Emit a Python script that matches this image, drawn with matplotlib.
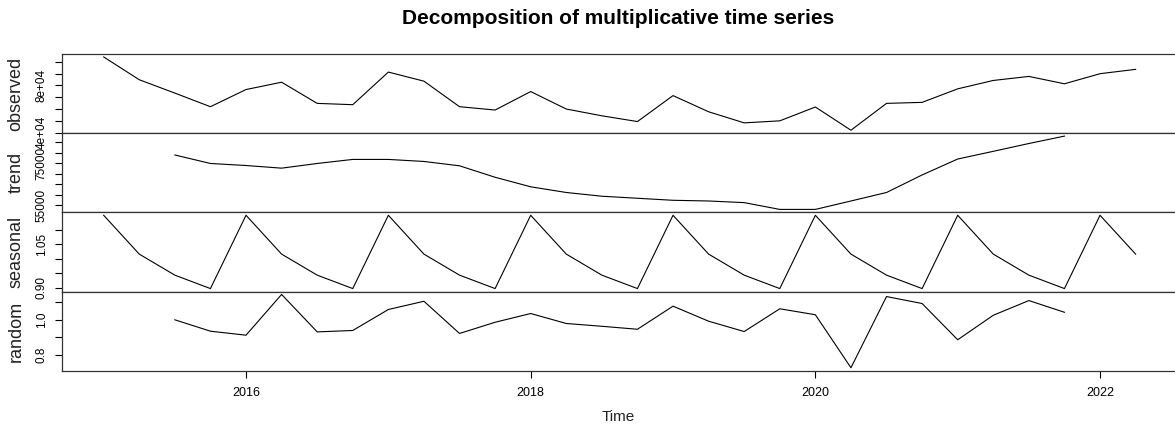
import numpy as np
import matplotlib
matplotlib.use("Agg")
import matplotlib.pyplot as plt
from matplotlib.ticker import FixedLocator, FixedFormatter

plt.rcParams['font.family'] = ['Liberation Sans', 'DejaVu Sans']

# Quarterly series, 2015 Q1 .. 2022 Q2
start_year = 2015
quarters_per_year = 4
n_obs = 30

observed = [104100, 84790, 73500, 61970, 76500, 82700, 64790, 63680, 91280, 83590,
            61970, 59150, 74790, 60000, 54270, 49400, 71370, 57690, 48290, 50000,
            61710, 42050, 64790, 65640, 77090, 84190, 87610, 81370, 89910, 93590]

trend = [np.nan, np.nan, 79000, 74950, 73980, 72720, 74950, 76880, 76880, 75910,
         73840, 68380, 63840, 61130, 59350, 58380, 57415, 57080, 56300, 53070,
         53070, 57080, 61130, 69490, 77070, 80740, 84460, 87990, np.nan, np.nan]

seasonal = [1.149, 1.016, 0.944, 0.898, 1.149, 1.016, 0.944, 0.898, 1.149, 1.016,
            0.944, 0.898, 1.149, 1.016, 0.944, 0.898, 1.149, 1.016, 0.944, 0.898,
            1.149, 1.016, 0.944, 0.898, 1.149, 1.016, 0.944, 0.898, 1.149, 1.016]

random_part = [np.nan, np.nan, 1.000, 0.935, 0.912, 1.145, 0.931, 0.939, 1.059, 1.106,
               0.922, 0.986, 1.036, 0.979, 0.963, 0.946, 1.078, 0.992, 0.933, 1.063,
               1.029, 0.726, 1.133, 1.093, 0.886, 1.026, 1.110, 1.043, np.nan, np.nan]

panel_names = ["observed", "trend", "seasonal", "random"]

# y tick positions and which of them carry a label
obs_ticks = [40000, 50000, 60000, 70000, 80000, 90000, 100000]
obs_labels = ["4e+04", "", "", "", "8e+04", "", ""]
trend_ticks = [55000, 60000, 65000, 70000, 75000, 80000, 85000]
trend_labels = ["55000", "", "", "", "75000", "", ""]
seas_ticks = [0.90, 0.95, 1.00, 1.05, 1.10]
seas_labels = ["0.90", "", "", "1.05", ""]
rand_ticks = [0.8, 0.9, 1.0, 1.1]
rand_labels = ["0.8", "", "1.0", ""]

x_ticks = [2016, 2018, 2020, 2022]
x_labels = ["2016", "2018", "2020", "2022"]

title = "Decomposition of multiplicative time series"
x_title = "Time"

t = start_year + np.arange(n_obs) / quarters_per_year
series = [observed, trend, seasonal, random_part]
ticks = [obs_ticks, trend_ticks, seas_ticks, rand_ticks]
labels = [obs_labels, trend_labels, seas_labels, rand_labels]

W, H = 1175, 430
fig = plt.figure(figsize=(W / 100, H / 100), dpi=100)

left_px = 62.4
width_px = 1114.5
top_px = 54.0
panel_h = 79.17

span = t[-1] - t[0]
xlim = (t[0] - 0.04 * span, t[-1] + 0.04 * span)

axes = []
for k, (vals, tk, lb, name) in enumerate(zip(series, ticks, labels, panel_names)):
    y_top = top_px + k * panel_h
    ax = fig.add_axes([left_px / W, 1 - (y_top + panel_h) / H, width_px / W, panel_h / H])
    v = np.asarray(vals, dtype=float)
    ax.plot(t, v, color="black", lw=0.8)
    lo, hi = np.nanmin(v), np.nanmax(v)
    pad = 0.04 * (hi - lo)
    ax.set_ylim(lo - pad, hi + pad)
    ax.set_xlim(*xlim)
    ax.yaxis.set_major_locator(FixedLocator(tk))
    ax.yaxis.set_major_formatter(FixedFormatter(lb))
    ax.tick_params(axis="y", direction="out", length=5, width=0.8, pad=5.5,
                   labelsize=8.5, labelrotation=90, colors="black")
    for lab in ax.get_yticklabels():
        lab.set_va("center")
    for s in ax.spines.values():
        s.set_linewidth(0.9)
        s.set_color("#333333")
    if k < 3:
        ax.set_xticks([])
    else:
        ax.set_xticks(x_ticks)
        ax.set_xticklabels(x_labels)
        ax.tick_params(axis="x", direction="out", length=5, width=0.8, pad=7,
                       labelsize=9, colors="black")
    fig.text(16 / W, 1 - (y_top + panel_h / 2) / H, name, rotation=90,
             ha="center", va="center", fontsize=13, color="#222222")
    axes.append(ax)

fig.text(618 / W, 1 - 18 / H, title, ha="center", va="center",
         fontsize=15, fontweight="bold")
fig.text(618 / W, 1 - 417 / H, x_title, ha="center", va="center",
         fontsize=11, color="#222222")

fig.savefig("out.png", dpi=100, facecolor="white")
